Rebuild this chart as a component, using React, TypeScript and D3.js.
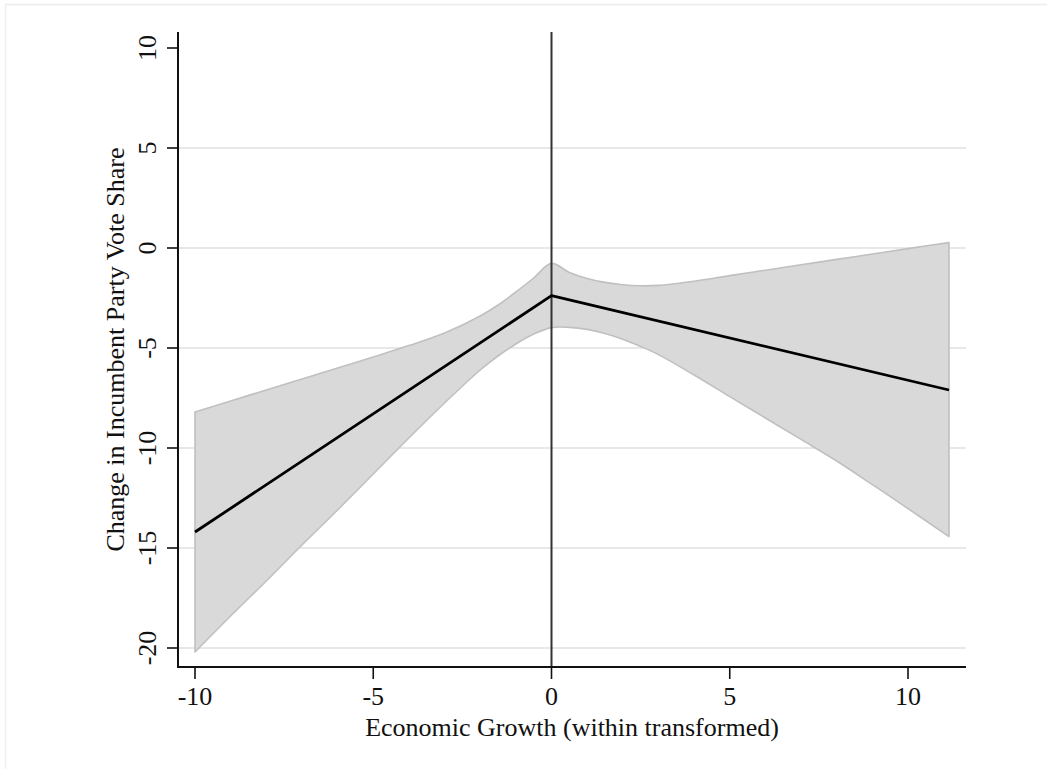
import React from "react";
import * as d3 from "d3";

// Marginal effect of economic growth with its 95% confidence band
const bandX = [-10, -9, -8, -7, -6, -5, -4, -3, -2, -1.5, -1, -0.5, 0, 0.5, 1, 1.5, 2, 2.5, 3, 4, 5, 6, 7, 8, 9, 10, 11.15];
const bandUpper = [-8.2, -7.65, -7.1, -6.55, -6.0, -5.45, -4.88, -4.25, -3.4, -2.85, -2.2, -1.5, -0.77, -1.22, -1.52, -1.72, -1.84, -1.89, -1.87, -1.66, -1.38, -1.11, -0.84, -0.57, -0.3, -0.03, 0.27];
const bandLower = [-20.2, -18.4, -16.65, -14.85, -13.1, -11.3, -9.5, -7.75, -6.1, -5.4, -4.8, -4.3, -3.98, -3.97, -4.07, -4.27, -4.56, -4.92, -5.33, -6.35, -7.43, -8.5, -9.57, -10.65, -11.83, -13.03, -14.43];

const estimateX = [-10, 0, 11.15];
const estimateY = [-14.2, -2.38, -7.1];

const xTicks = [-10, -5, 0, 5, 10];
const yTicks = [10, 5, 0, -5, -10, -15, -20];
const yGrid = [5, 0, -5, -10, -15, -20];

const xTitle = "Economic Growth (within transformed)";
const yTitle = "Change in Incumbent Party Vote Share";

const W = 1047;
const H = 769;
const plot = { left: 178, right: 966, top: 32, bottom: 667 };
const FONT = "'Liberation Serif', 'Times New Roman', serif";
const FS = 26;

export default function App() {
  const x = d3.scaleLinear().domain([-10, 10]).range([195, 908]);
  const y = d3.scaleLinear().domain([10, -20]).range([48, 648]);

  const band = bandX.map((v, i) => ({ x: v, lo: bandLower[i], hi: bandUpper[i] }));
  const areaPath = d3
    .area<{ x: number; lo: number; hi: number }>()
    .x((d) => x(d.x))
    .y0((d) => y(d.lo))
    .y1((d) => y(d.hi))
    .curve(d3.curveCatmullRom.alpha(0.5))(band) as string;

  const lineGen = d3
    .line<number>()
    .x((_, i) => x(estimateX[i]))
    .y((d) => y(d));

  return (
    <svg
      width={W}
      height={H}
      style={{ position: "absolute", left: 0, top: 0, background: "#fff" }}
      fontFamily={FONT}
    >
      <rect x={0} y={0} width={W} height={H} fill="#fff" />
      {/* outer graph region border */}
      <line x1={5} x2={W} y1={4.5} y2={4.5} stroke="#ececec" strokeWidth={1.5} />
      <line x1={5.5} x2={5.5} y1={4} y2={H} stroke="#f0f0f0" strokeWidth={1.5} />

      {/* horizontal gridlines */}
      {yGrid.map((t) => (
        <line key={t} x1={plot.left} x2={plot.right} y1={y(t)} y2={y(t)} stroke="#e8e8e8" strokeWidth={2} />
      ))}

      {/* confidence band */}
      <path d={areaPath} fill="#d9d9d9" stroke="#c0c0c0" strokeWidth={1.6} strokeLinejoin="round" />

      {/* reference line at zero growth */}
      <line x1={x(0)} x2={x(0)} y1={plot.top} y2={plot.bottom} stroke="#333" strokeWidth={2} />

      {/* point estimate */}
      <path d={lineGen(estimateY) as string} fill="none" stroke="#000" strokeWidth={2.8} strokeLinejoin="round" />

      {/* y axis */}
      <line x1={plot.left} x2={plot.left} y1={plot.top} y2={plot.bottom} stroke="#111" strokeWidth={2} />
      {yTicks.map((t) => (
        <g key={t}>
          <line x1={plot.left - 11} x2={plot.left} y1={y(t)} y2={y(t)} stroke="#111" strokeWidth={1.6} />
          <text
            transform={`translate(${156},${y(t)}) rotate(-90)`}
            textAnchor="middle"
            fontSize={FS}
            fill="#111"
          >
            {t}
          </text>
        </g>
      ))}

      {/* x axis */}
      <line x1={plot.left - 1} x2={plot.right} y1={plot.bottom} y2={plot.bottom} stroke="#111" strokeWidth={2} />
      {xTicks.map((t) => (
        <g key={t}>
          <line x1={x(t)} x2={x(t)} y1={plot.bottom} y2={plot.bottom + 12} stroke="#111" strokeWidth={1.6} />
          <text x={x(t)} y={705} textAnchor="middle" fontSize={FS} fill="#111">
            {t}
          </text>
        </g>
      ))}

      {/* axis titles */}
      <text x={(plot.left + plot.right) / 2} y={736} textAnchor="middle" fontSize={FS} fill="#111">
        {xTitle}
      </text>
      <text
        transform={`translate(${124},${(plot.top + plot.bottom) / 2}) rotate(-90)`}
        textAnchor="middle"
        fontSize={FS}
        fill="#111"
      >
        {yTitle}
      </text>
    </svg>
  );
}
